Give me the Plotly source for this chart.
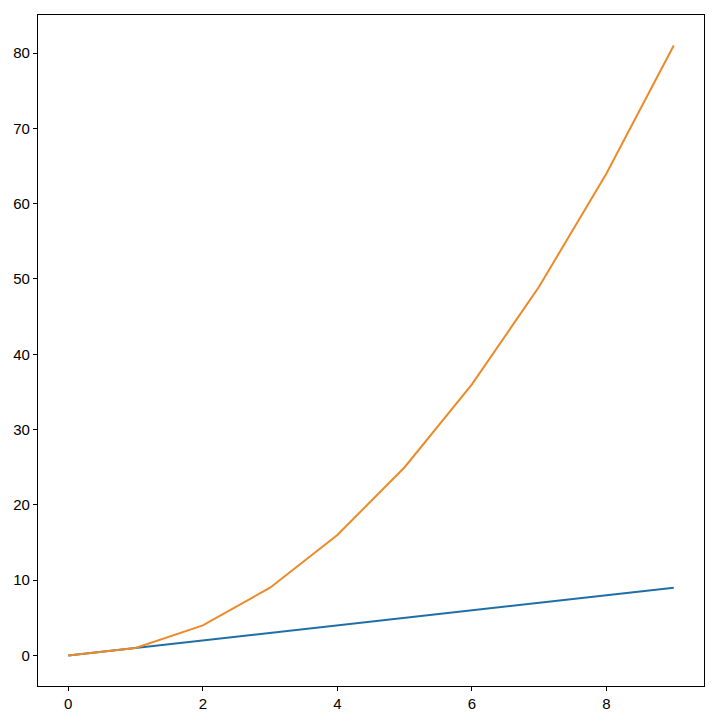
import plotly.graph_objects as go

x = [0, 1, 2, 3, 4, 5, 6, 7, 8, 9]
y_linear = [0, 1, 2, 3, 4, 5, 6, 7, 8, 9]
y_square = [0, 1, 4, 9, 16, 25, 36, 49, 64, 81]

fig = go.Figure()
fig.add_trace(go.Scatter(x=x, y=y_linear, mode="lines",
                         line=dict(color="#1f6ea6", width=2), showlegend=False))
fig.add_trace(go.Scatter(x=x, y=y_square, mode="lines",
                         line=dict(color="#ec8a28", width=2), showlegend=False))

axis_common = dict(showgrid=False, zeroline=False, showline=True, mirror=True,
                   linecolor="black", linewidth=1.2, ticks="outside", ticklen=4,
                   tickwidth=1, tickcolor="black", automargin=False,
                   tickfont=dict(family="Liberation Sans, Arial, sans-serif", size=15, color="black"))

fig.update_xaxes(range=[-0.45, 9.45], tickvals=[0, 2, 4, 6, 8], **axis_common)
fig.update_yaxes(range=[-4.05, 85.05], tickvals=[0, 10, 20, 30, 40, 50, 60, 70, 80], **axis_common)

# page body has an 8px margin, so the figure is offset by 8px
fig.update_layout(width=710, height=710, plot_bgcolor="white", paper_bgcolor="white",
                  margin=dict(l=30, r=14, t=7, b=32))

fig.write_html("out.html")
